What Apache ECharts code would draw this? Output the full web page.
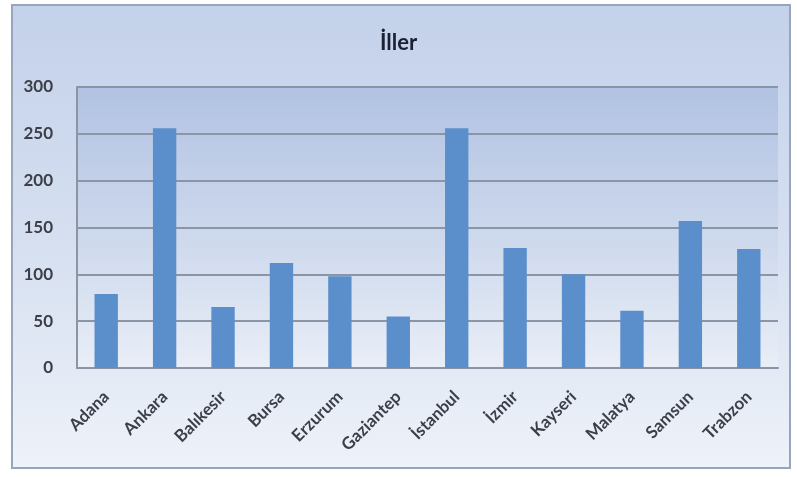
<!DOCTYPE html>
<html>
<head>
<meta charset="utf-8">
<script src="https://cdn.jsdelivr.net/npm/echarts@6/dist/echarts.min.js"></script>
<style>
  html, body { margin: 0; padding: 0; background: #ffffff; }
  #chart { width: 797px; height: 477px; }
</style>
</head>
<body>
<div id="chart"></div>
<script>
// Şehirler ve değerleri
const cities = ['Adana', 'Ankara', 'Balıkesir', 'Bursa', 'Erzurum', 'Gaziantep', 'İstanbul', 'İzmir', 'Kayseri', 'Malatya', 'Samsun', 'Trabzon'];
const values = [79, 256, 65, 112, 98, 55, 256, 128, 100, 61, 157, 127];
const titleText = 'İller';
const yMin = 0, yMax = 300, yStep = 50;

const chart = echarts.init(document.getElementById('chart'), null, { renderer: 'canvas' });

const fontFam = 'Lato, "Open Sans", sans-serif';

chart.setOption({
  animation: false,
  backgroundColor: '#ffffff',
  graphic: [
    {
      type: 'rect',
      z: -10,
      shape: { x: 12, y: 5, width: 778, height: 463 },
      style: {
        fill: new echarts.graphic.LinearGradient(0, 0, 0, 1, [
          { offset: 0, color: '#c3d1ea' },
          { offset: 0.5, color: '#d5dff0' },
          { offset: 1, color: '#eef2f9' }
        ]),
        stroke: '#97a5bd',
        lineWidth: 2
      }
    }
  ],
  title: {
    text: titleText,
    left: 'center',
    top: 27,
    textStyle: { fontFamily: fontFam, fontSize: 22, fontWeight: 'bold', color: '#1c2033' }
  },
  grid: {
    left: 77, right: 19, top: 87, bottom: 109,
    show: true,
    borderWidth: 0,
    backgroundColor: new echarts.graphic.LinearGradient(0, 0, 0, 1, [
      { offset: 0, color: '#b1c2e2' },
      { offset: 0.5, color: '#cbd7ec' },
      { offset: 1, color: '#e9eef7' }
    ])
  },
  xAxis: {
    type: 'category',
    data: cities,
    axisLine: { show: true, lineStyle: { color: '#8c95a6', width: 2 } },
    axisTick: { show: false },
    axisLabel: {
      rotate: 45,
      interval: 0,
      margin: 26,
      fontFamily: fontFam,
      fontSize: 17,
      fontWeight: 'bold',
      color: '#3c3f48'
    }
  },
  yAxis: {
    type: 'value',
    min: yMin, max: yMax, interval: yStep,
    axisLine: { show: true, lineStyle: { color: '#8c95a6', width: 2 } },
    axisTick: { show: false },
    splitLine: { show: true, lineStyle: { color: '#8c95a6', width: 2 } },
    axisLabel: {
      margin: 24,
      fontFamily: fontFam,
      fontSize: 17,
      fontWeight: 'bold',
      color: '#3c3f48'
    }
  },
  series: [
    {
      type: 'bar',
      data: values,
      barWidth: '40%',
      itemStyle: { color: '#5b8fcb' }
    }
  ]
});
</script>
</body>
</html>
